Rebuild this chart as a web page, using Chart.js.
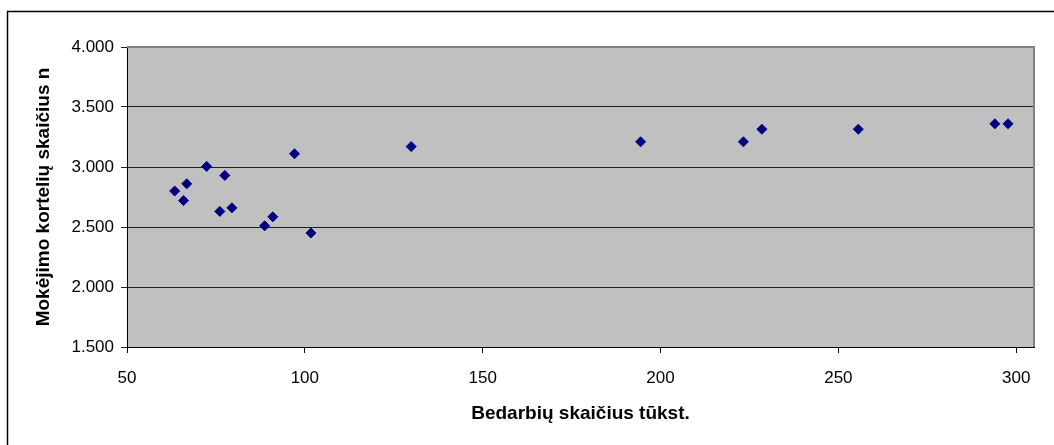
<!DOCTYPE html>
<html>
<head>
<meta charset="utf-8">
<script src="https://cdn.jsdelivr.net/npm/chart.js@4"></script>
<style>
  html, body { margin: 0; padding: 0; background: #fff; }
  #wrap { width: 1054px; height: 445px; position: relative; }
</style>
</head>
<body>
<div id="wrap"><canvas id="c" width="1054" height="445"></canvas></div>
<script>
// Unemployed (thousand) vs number of payment cards
const unemployed = [63.4, 65.9, 66.8, 72.4, 76.1, 77.5, 79.5, 88.7, 91.0, 97.1, 101.7, 129.9, 194.4, 223.3, 228.5, 255.6, 294.0, 297.7];
const cards      = [2800, 2720, 2860, 3005, 2630, 2930, 2660, 2510, 2585, 3110, 2450, 3170, 3210, 3210, 3315, 3315, 3360, 3360];

const xTickValues = [50, 100, 150, 200, 250, 300];
const yTickValues = [1500, 2000, 2500, 3000, 3500, 4000];

const xTitle = 'Bedarbių skaičius tūkst.';
const yTitle = 'Mokėjimo kortelių skaičius n';

const points = unemployed.map((x, i) => ({ x: x, y: cards[i] }));

const fmtThousands = v => {
  const s = Math.round(v).toString();
  return s.replace(/\B(?=(\d{3})+(?!\d))/g, '.');
};

// Grey plot background, grey right/top border and the outer chart frame
const backdrop = {
  id: 'backdrop',
  beforeDraw(chart) {
    const { ctx, chartArea: a } = chart;
    ctx.save();
    ctx.fillStyle = '#c0c0c0';
    ctx.fillRect(a.left, a.top, a.right - a.left, a.bottom - a.top);
    ctx.restore();
  },
  beforeDatasetsDraw(chart) {
    const { ctx, chartArea: a } = chart;
    ctx.save();
    ctx.strokeStyle = '#808080';
    ctx.lineWidth = 2;
    ctx.beginPath();
    ctx.moveTo(a.left, a.top);
    ctx.lineTo(a.right, a.top);
    ctx.lineTo(a.right, a.bottom);
    ctx.stroke();
    ctx.restore();
  },
  afterDraw(chart) {
    const { ctx } = chart;
    ctx.save();
    ctx.strokeStyle = '#000';
    ctx.lineWidth = 1.5;
    ctx.beginPath();
    ctx.moveTo(7.5, 445);
    ctx.lineTo(7.5, 11.5);
    ctx.lineTo(1054, 11.5);
    ctx.stroke();
    ctx.restore();
  }
};

Chart.defaults.font.family = '"Liberation Sans", Arial, sans-serif';
Chart.defaults.color = '#000';

new Chart(document.getElementById('c'), {
  type: 'scatter',
  data: {
    datasets: [{
      data: points,
      pointStyle: 'rectRot',
      pointRadius: 5,
      pointHoverRadius: 5,
      backgroundColor: '#000080',
      borderColor: '#000080',
      borderWidth: 1
    }]
  },
  options: {
    responsive: false,
    animation: false,
    events: [],
    layout: { padding: { left: 0, top: 47, right: 20, bottom: 0 } },
    plugins: { legend: { display: false }, tooltip: { enabled: false } },
    scales: {
      x: {
        type: 'linear',
        min: 50,
        max: 305,
        afterFit(scale) { scale.height = 98; },
        afterBuildTicks(scale) { scale.ticks = xTickValues.map(v => ({ value: v })); },
        border: { display: true, color: '#000', width: 1 },
        grid: { drawOnChartArea: false, drawTicks: true, tickLength: 6, color: '#000' },
        ticks: { font: { size: 17 }, padding: 15, maxRotation: 0, color: '#000' },
        title: {
          display: true,
          text: xTitle,
          font: { size: 19, weight: 'bold' },
          color: '#000',
          padding: { top: 0, bottom: 20 }
        }
      },
      y: {
        type: 'linear',
        min: 1500,
        max: 4000,
        afterFit(scale) { scale.width = 127; },
        afterBuildTicks(scale) { scale.ticks = yTickValues.map(v => ({ value: v })); },
        border: { display: true, color: '#000', width: 1 },
        grid: { drawOnChartArea: true, drawTicks: true, tickLength: 6, color: '#202020', lineWidth: 1 },
        ticks: { font: { size: 17 }, padding: 7, color: '#000', callback: v => fmtThousands(v) },
        title: {
          display: true,
          text: yTitle,
          font: { size: 19, weight: 'bold' },
          color: '#000',
          padding: { top: 32, bottom: 0 }
        }
      }
    }
  },
  plugins: [backdrop]
});
</script>
</body>
</html>
